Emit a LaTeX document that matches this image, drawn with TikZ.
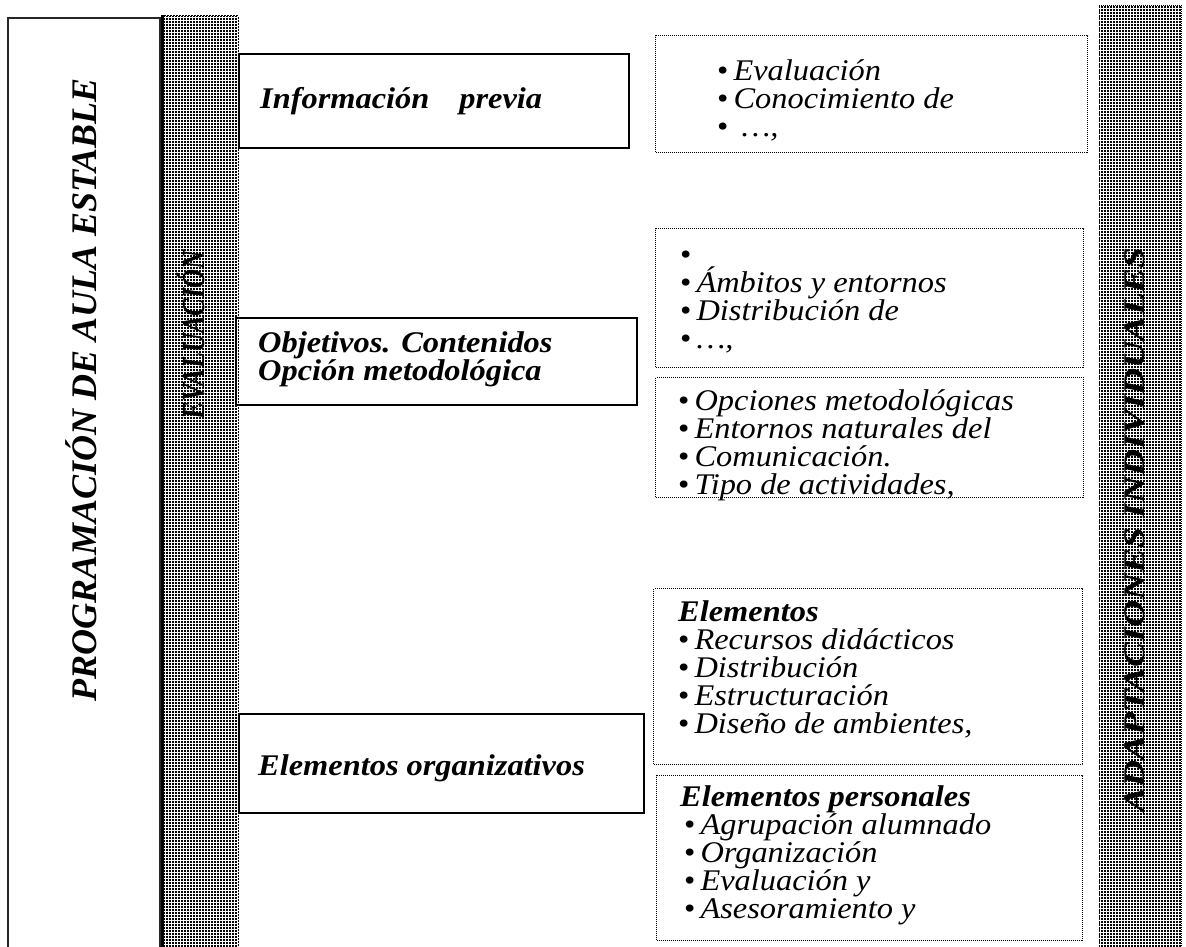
\documentclass[tikz,border=0pt]{standalone}
\usepackage{fontspec}
\setmainfont{Liberation Serif}
\newfontfamily\boxfont{Liberation Serif}[FakeStretch=1.08]
\newfontfamily\vfont{Liberation Serif}
\usetikzlibrary{patterns.meta}
\tikzdeclarepattern{
  name=griddots,
  type=uncolored,
  bounding box={(0pt,0pt) and (3.4pt,3.4pt)},
  tile size={(3.4pt,3.4pt)},
  code={\fill (0pt,0pt) rectangle (2.2pt,2.2pt);}
}
\newcommand{\bul}{{\upshape\textbullet}\,}
\begin{document}
\begin{tikzpicture}[x=1pt,y=-1pt,
  solidbox/.style={draw, line width=2pt, inner sep=0pt, anchor=north west},
  dotbox/.style={draw, line width=1pt, dash pattern=on 1pt off 1pt, inner sep=0pt, anchor=north west},
  col/.style={pattern=griddots, pattern color=black},
  txt/.style={anchor=base west, inner sep=0pt, align=left, font=\boxfont\fontsize{30}{28}\selectfont\itshape},
  bt/.style={txt, font=\boxfont\fontsize{30}{28}\selectfont\bfseries\itshape},
  vtxt/.style={rotate=90, inner sep=0pt, font=\vfont\bfseries\itshape}
]
\useasboundingbox (0,0) rectangle (1186,946);

% left frame
\draw[line width=2pt, black!85] (8,960) -- (8,18) -- (160,18) -- (160,960);
\node[vtxt, font=\vfont\fontsize{36}{40}\selectfont\bfseries\itshape] (prog) at (81,390) {PROGRAMACIÓN DE AULA ESTABLE};

% evaluation column
\fill[col] (164,16) rectangle (237,960);
\draw[line width=3pt] (162.5,15) -- (162.5,960);
\draw[line width=1pt, dash pattern=on 2pt off 1pt] (161,15.5) -- (238,15.5) -- (238,960);
\node[vtxt, font=\vfont\fontsize{32}{34}\selectfont\bfseries\itshape] (evalT) at (191,335) {\scalebox{0.82}[1]{EVALUACIÓN}};

% adaptations column
\fill[col] (1099,6) rectangle (1181,960);
\draw[line width=1pt, dash pattern=on 1pt off 1pt] (1099,960) -- (1099,5.5) -- (1181.5,5.5) -- (1181.5,960);
\node[vtxt, font=\vfont\fontsize{30}{32}\selectfont\bfseries\itshape] (adapT) at (1135,530) {\scalebox{1.25}[1]{ADAPTACIONES INDIVIDUALES}};

% solid boxes
\node[solidbox, minimum width=390pt, minimum height=94pt] (info) at (238,53) {};
\node[bt] (infoT) at (260,108) {Información\hspace{30pt}previa};

\node[solidbox, minimum width=401pt, minimum height=87pt] (obj) at (235,317) {};
\node[bt] (objT) at (258,380) {Objetivos. Contenidos\\Opción metodológica};

\node[solidbox, minimum width=405pt, minimum height=99pt] (org) at (238,713) {};
\node[bt] (orgT) at (258,775) {Elementos organizativos};

% dotted boxes (text anchor = baseline of the last line)
\node[dotbox, minimum width=432pt, minimum height=117pt] (b1) at (655,35) {};
\node[txt] (b1T) at (717,136) {\bul Evaluación\\\bul Conocimiento de\\\bul\ …,};

\node[dotbox, minimum width=428pt, minimum height=139pt] (b2) at (655,228) {};
\node[txt] (b2T) at (680,348) {\bul\\\bul Ámbitos y entornos\\\bul Distribución de\\\bul …,};

\node[dotbox, minimum width=428pt, minimum height=120pt] (b3) at (655,377) {};
\node[txt] (b3T) at (678,494) {\bul Opciones metodológicas\\\bul Entornos naturales del\\\bul Comunicación.\\\bul Tipo de actividades,};

\node[dotbox, minimum width=429pt, minimum height=176pt] (b4) at (653,588) {};
\node[txt] (b4T) at (678,733) {{\bfseries Elementos}\\\bul Recursos didácticos\\\bul Distribución\\\bul Estructuración\\\bul Diseño de ambientes,};

\node[dotbox, minimum width=426pt, minimum height=165pt] (b5) at (656,775) {};
\node[txt] (b5T) at (680,918) {{\bfseries Elementos personales}\\\hspace{4pt}\bul Agrupación alumnado\\\hspace{4pt}\bul Organización\\\hspace{4pt}\bul Evaluación y\\\hspace{4pt}\bul Asesoramiento y};
\end{tikzpicture}
\end{document}
